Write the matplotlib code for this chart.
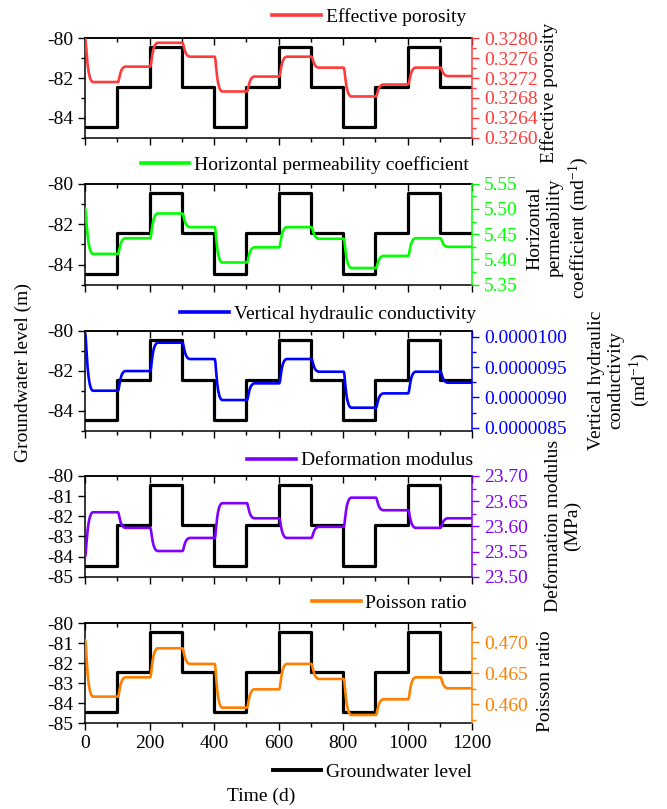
import matplotlib
matplotlib.use('Agg')
import matplotlib.pyplot as plt
from matplotlib.path import Path
from matplotlib.patches import PathPatch
from matplotlib.lines import Line2D
from matplotlib.ticker import MultipleLocator, FormatStrFormatter

plt.rcParams['font.family'] = 'Liberation Serif'
plt.rcParams['font.size'] = 14
plt.rcParams['axes.unicode_minus'] = False
plt.rcParams['mathtext.fontset'] = 'custom'
plt.rcParams['mathtext.rm'] = 'Liberation Serif'
plt.rcParams['mathtext.it'] = 'Liberation Serif:italic'

# stage start times (d) and groundwater level in each stage (m)
step_days = [0, 100, 200, 300, 400, 500, 600, 700, 800, 900, 1000, 1100]
end_day = 1200
groundwater = [-84.45, -82.45, -80.45, -82.45, -84.45, -82.45,
               -80.45, -82.45, -84.45, -82.45, -80.45, -82.45]

# value at t=0 and the level each parameter settles to in every stage
porosity_start = 0.32800
porosity = [0.32712, 0.32743, 0.32791, 0.32763, 0.32693, 0.32723,
            0.32763, 0.32741, 0.32683, 0.32707, 0.32741, 0.32724]

kh_start = 5.501
kh = [5.411, 5.442, 5.491, 5.464, 5.394, 5.424,
      5.464, 5.441, 5.383, 5.407, 5.442, 5.425]

kv_start = 1.0055e-5
kv = [9.110e-6, 9.434e-6, 9.901e-6, 9.632e-6, 8.956e-6, 9.231e-6,
      9.632e-6, 9.423e-6, 8.830e-6, 9.066e-6, 9.423e-6, 9.242e-6]

modulus_start = 23.540
modulus = [23.628, 23.597, 23.551, 23.577, 23.646, 23.616,
           23.577, 23.599, 23.657, 23.632, 23.597, 23.616]

poisson_start = 0.4704
poisson = [0.46124, 0.46435, 0.46903, 0.46651, 0.45946, 0.46242,
           0.46651, 0.46409, 0.45828, 0.46081, 0.46435, 0.46258]

panels = [
    dict(name='Effective porosity', start=porosity_start, levels=porosity,
         color='#FF3B3B', ylim=(0.3260, 0.3280), major=0.0004, minor=0.0002,
         fmt='%.4f', ylabel='Effective porosity', lab_x=549, lab_y=93,
         left_major=2, left_minor=1, leg_dy=21.6, leg_right=466),
    dict(name='Horizontal permeability coefficient', start=kh_start, levels=kh,
         color='#00FF00', ylim=(5.35, 5.55), major=0.05, minor=0.025,
         fmt='%.2f', ylabel='Horizontal\npermeability\ncoefficient (md$^{-1}$)',
         lab_x=559, lab_y=228, left_major=2, left_minor=1, leg_dy=18.7, leg_right=469),
    dict(name='Vertical hydraulic conductivity', start=kv_start, levels=kv,
         color='#0000FF', ylim=(8.446e-6, 1.0099e-5), major=5e-7, minor=2.5e-7,
         fmt='%.7f', ylabel='Vertical hydraulic\nconductivity\n(md$^{-1}$)',
         lab_x=620, lab_y=380, left_major=2, left_minor=1, leg_dy=16.7, leg_right=476),
    dict(name='Deformation modulus', start=modulus_start, levels=modulus,
         color='#8000FF', ylim=(23.50, 23.70), major=0.05, minor=0.025,
         fmt='%.2f', ylabel='Deformation modulus\n(MPa)',
         lab_x=563, lab_y=526, left_major=1, left_minor=None, leg_dy=15.5, leg_right=473),
    dict(name='Poisson ratio', start=poisson_start, levels=poisson,
         color='#FF8000', ylim=(0.45694, 0.47306), major=0.005, minor=0.0025,
         fmt='%.3f', ylabel='Poisson ratio', lab_x=545, lab_y=681,
         left_major=1, left_minor=None, leg_dy=20, leg_right=467),
]

# panel top / bottom in pixels
panel_px = [(38.3, 137.7), (183.7, 284.7), (330.7, 431.0), (476.0, 576.7), (623.3, 723.3)]
W, H = 667, 809
left_px, right_px = 85, 472


def response_path(start, levels):
    verts = [(0, start), (5, start), (5, levels[0]), (25, levels[0])]
    codes = [Path.MOVETO, Path.CURVE4, Path.CURVE4, Path.CURVE4]
    for k in range(1, len(levels)):
        t = step_days[k]
        old, new = levels[k - 1], levels[k]
        verts += [(t + 2, old), (t + 7, old), (t + 7, new), (t + 26, new)]
        codes += [Path.LINETO, Path.CURVE4, Path.CURVE4, Path.CURVE4]
    verts.append((end_day, levels[-1]))
    codes.append(Path.LINETO)
    return Path(verts, codes)


fig = plt.figure(figsize=(W / 100, H / 100), dpi=100)

gw_t = step_days + [end_day]
gw_v = groundwater + [groundwater[-1]]

for i, p in enumerate(panels):
    top, bot = panel_px[i]
    ax = fig.add_axes([left_px / W, 1 - bot / H, (right_px - left_px) / W, (bot - top) / H])
    ax.step(gw_t, gw_v, where='post', color='black', lw=2.3, zorder=2)
    ax.set_xlim(0, 1200)
    ax.set_ylim(-85, -80)
    ax.xaxis.set_major_locator(MultipleLocator(200))
    ax.xaxis.set_minor_locator(MultipleLocator(100))
    ax.yaxis.set_major_locator(MultipleLocator(p['left_major']))
    if p['left_minor']:
        ax.yaxis.set_minor_locator(MultipleLocator(p['left_minor']))
    ax.tick_params(which='both', direction='out', width=1.0)
    ax.tick_params(which='major', length=5)
    ax.tick_params(which='minor', length=3)
    if i < len(panels) - 1:
        ax.tick_params(axis='x', labelbottom=False)
    for s in ax.spines.values():
        s.set_linewidth(1.1)
    ax.spines['right'].set_visible(False)

    sec = ax.secondary_xaxis('top')
    sec.xaxis.set_major_locator(MultipleLocator(200))
    sec.xaxis.set_minor_locator(MultipleLocator(100))
    sec.tick_params(which='both', direction='in', labeltop=False, width=1.0)
    sec.tick_params(which='major', length=5)
    sec.tick_params(which='minor', length=3)
    sec.spines['top'].set_linewidth(1.1)

    ax2 = ax.twinx()
    ax2.add_patch(PathPatch(response_path(p['start'], p['levels']), fill=False,
                            edgecolor=p['color'], lw=1.9, capstyle='round', joinstyle='round'))
    ax2.set_ylim(*p['ylim'])
    ax2.yaxis.set_major_locator(MultipleLocator(p['major']))
    ax2.yaxis.set_minor_locator(MultipleLocator(p['minor']))
    ax2.yaxis.set_major_formatter(FormatStrFormatter(p['fmt']))
    ax2.tick_params(axis='y', which='both', direction='out', colors=p['color'], width=1.0)
    ax2.tick_params(axis='y', which='major', length=5)
    ax2.tick_params(axis='y', which='minor', length=3)
    ax2.spines['right'].set_color(p['color'])
    ax2.spines['right'].set_linewidth(1.1)
    for s in ['left', 'top', 'bottom']:
        ax2.spines[s].set_visible(False)

    h = bot - top
    handle = Line2D([0], [0], color=p['color'], lw=2.6)
    ax2.legend([handle], [p['name']], loc='center right', frameon=False,
               bbox_to_anchor=((p['leg_right'] - left_px) / (right_px - left_px), 1 + p['leg_dy'] / h),
               borderpad=0, borderaxespad=0, handlelength=2.5, handletextpad=0.25,
               fontsize=14)

    fig.text(p['lab_x'] / W, 1 - p['lab_y'] / H, p['ylabel'], rotation=90,
             ha='center', va='center', multialignment='center', fontsize=14)

    if i == len(panels) - 1:
        gh = Line2D([0], [0], color='black', lw=2.8)
        ax.legend([gh], ['Groundwater level'], loc='center right', frameon=False,
                  bbox_to_anchor=(1.0, 1 - (771.7 - top) / h),
                  borderpad=0, borderaxespad=0, handlelength=2.5, handletextpad=0.25,
                  fontsize=14)

fig.text(261 / W, 1 - 796.7 / H, 'Time (d)', ha='center', va='center', fontsize=14)
fig.text(23 / W, 1 - 372 / H, 'Groundwater level (m)', rotation=90,
         ha='center', va='center', fontsize=14)

fig.savefig('out.png', dpi=100)
